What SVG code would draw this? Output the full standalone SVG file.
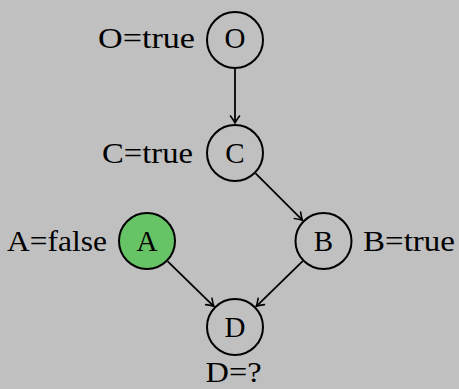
<svg xmlns="http://www.w3.org/2000/svg" width="459" height="389" viewBox="0 0 459 389">
<style>
.bg{fill:#c0c0c0}
.node circle{fill:none;stroke:#000;stroke-width:2}
.node.green circle{fill:#66c466}
text{font-family:"Liberation Serif","Times New Roman",serif;font-size:29px;fill:#000}
.in{text-anchor:middle}
.edge{stroke:#000;stroke-width:1.8;fill:none;marker-end:url(#arr)}
</style>
<defs>
<marker id="arr" markerUnits="userSpaceOnUse" markerWidth="14" markerHeight="14" viewBox="-8 -7 10 14" refX="0" refY="0" orient="auto">
<path d="M-7,-4.5 Q-2.5,-1.2 0,0 Q-2.5,1.2 -7,4.5" fill="none" stroke="#000" stroke-width="1.6" stroke-linecap="round"/>
</marker>
</defs>
<rect class="bg" x="0" y="0" width="459" height="389"/>
<g id="edges">
<path class="edge" d="M235,69 L235,123"/>
<path class="edge" d="M255.6,173.4 L302.4,220.2"/>
<path class="edge" d="M167.7,261.3 L213.8,306.3"/>
<path class="edge" d="M302.7,261.2 L256.3,306.3"/>
</g>
<g id="O" class="node"><circle cx="235" cy="40" r="28"/><text class="in" x="235" y="48">O</text><text x="195" y="48" text-anchor="end" textLength="97" lengthAdjust="spacingAndGlyphs">O=true</text></g>
<g id="C" class="node"><circle cx="235" cy="153" r="28"/><text class="in" x="235" y="163">C</text><text x="193" y="163" text-anchor="end" textLength="91" lengthAdjust="spacingAndGlyphs">C=true</text></g>
<g id="A" class="node green"><circle cx="147" cy="241" r="28"/><text class="in" x="147" y="250.5">A</text><text x="107" y="250.5" text-anchor="end" textLength="100" lengthAdjust="spacingAndGlyphs">A=false</text></g>
<g id="B" class="node"><circle cx="323.5" cy="241" r="28"/><text class="in" x="323.5" y="250.5">B</text><text x="363" y="250.5" textLength="92" lengthAdjust="spacingAndGlyphs">B=true</text></g>
<g id="D" class="node"><circle cx="235" cy="327" r="28"/><text class="in" x="235" y="337">D</text><text class="in" x="233.5" y="382" textLength="56" lengthAdjust="spacingAndGlyphs">D=?</text></g>
</svg>
